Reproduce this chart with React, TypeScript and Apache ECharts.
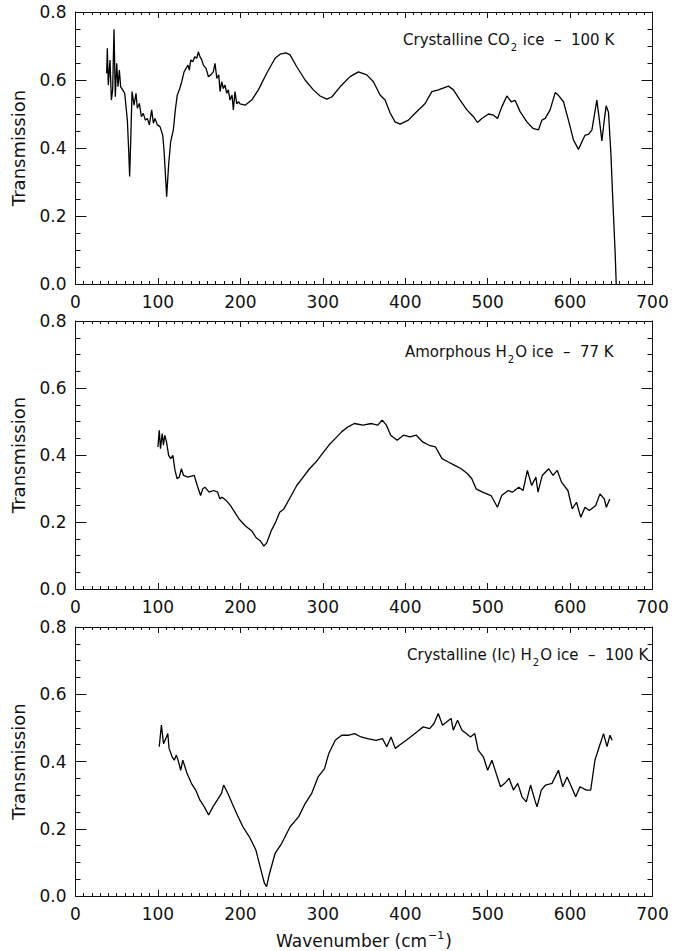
import React, { useEffect, useRef } from 'react';
import * as echarts from 'echarts';

// ---- tick labels ----
const xTickValues = [0, 100, 200, 300, 400, 500, 600, 700];
const yTickValues = [0.0, 0.2, 0.4, 0.6, 0.8];

// ---- panel titles ----
const titleMain = ['Crystalline CO', 'Amorphous H', 'Crystalline (Ic) H'];
const titleSub = ['2', '2', '2'];
const titleRest = [' ice  \u2013  100 K', 'O ice  \u2013  77 K', 'O ice  \u2013  100 K'];

// ---- Panel 1: crystalline CO2 ice, 100 K ----
const co2Wn = [
  37.8, 38.6, 39.8, 41.9, 43.5, 45.1, 46.7, 48.3, 50, 51.6, 53.2, 54.8, 57.2, 59.7, 61.3, 62.9,
  64.5, 65.7, 66.9, 68.6, 71, 73.4, 75, 77.5, 79.9, 82.3, 84.7, 87.2, 89.6, 92.4, 94.5, 96.5,
  99.3, 102.5, 105.8, 107.4, 109, 110.6, 113.1, 115.5, 118.7, 121.1, 123.5, 126, 128.9, 131.7,
  134.1, 136.5, 138.1, 139.8, 142.2, 144.7, 147.1, 149, 151.1, 153.2, 155.1, 158.4, 161.2, 164.1,
  167.2, 169.3, 171.4, 173.8, 175.4, 177.4, 179.4, 181.4, 183.5, 185.4, 187.5, 189.9, 191.5,
  193.5, 195.6, 197.6, 199.6, 205.7, 213.8, 221.8, 232, 242.1, 248.2, 255.5, 260.3, 268.4,
  278.5, 288.6, 296.7, 304.9, 310.9, 321, 333.1, 343.2, 353.4, 361.4, 369.5, 375.6, 381.7,
  387.7, 393.8, 403.9, 412, 424.2, 432.3, 440.3, 452.4, 458.5, 466.6, 474.8, 482.8, 487.6, 493,
  501, 507, 511.9, 517.2, 523.3, 528.5, 533.4, 539.4, 547.6, 554.9, 561.7, 565.8, 569.8, 575.8,
  581.9, 585.9, 592, 598, 604.1, 610.2, 615.5, 618.3, 622.3, 626.5, 632.5, 635.7, 638.6, 641.4,
  643.8, 646.6, 649.5, 652, 654.7, 656
];
const co2T = [
  0.62, 0.693, 0.585, 0.659, 0.541, 0.571, 0.749, 0.551, 0.649, 0.58, 0.629, 0.58, 0.571, 0.561, 0.521, 0.482,
  0.394, 0.316, 0.414, 0.566, 0.526, 0.561, 0.517, 0.531, 0.492, 0.502, 0.482, 0.487, 0.468, 0.512, 0.473, 0.487,
  0.468, 0.463, 0.438, 0.394, 0.326, 0.257, 0.355, 0.419, 0.453, 0.512, 0.556, 0.571, 0.595, 0.624,
  0.634, 0.644, 0.629, 0.659, 0.654, 0.668, 0.664, 0.683, 0.668, 0.659, 0.644, 0.634, 0.61, 0.615,
  0.624, 0.649, 0.605, 0.615, 0.566, 0.595, 0.575, 0.585, 0.561, 0.571, 0.541, 0.556, 0.512,
  0.566, 0.53, 0.536, 0.53, 0.526, 0.541, 0.571, 0.62, 0.664, 0.676, 0.68, 0.674, 0.639,
  0.6, 0.571, 0.553, 0.544, 0.55, 0.58, 0.61, 0.624, 0.615, 0.595, 0.556, 0.541, 0.503,
  0.477, 0.47, 0.482, 0.502, 0.531, 0.566, 0.571, 0.582, 0.571, 0.541, 0.512, 0.492, 0.475, 0.487,
  0.5, 0.497, 0.487, 0.521, 0.553, 0.536, 0.54, 0.507, 0.477, 0.458, 0.453, 0.482, 0.487, 0.512,
  0.563, 0.555, 0.536, 0.482, 0.424, 0.396, 0.424, 0.438, 0.44, 0.453, 0.541, 0.48, 0.421, 0.48,
  0.524, 0.505, 0.385, 0.238, 0.091, 0.0
];

// ---- Panel 2: amorphous H2O ice, 77 K ----
const amWn = [
  100, 101.6, 103.1, 105.2, 106.7, 108.3, 110.4, 113, 115.5, 118.1, 120.7, 123.3, 125.9, 128.5,
  131.1, 136.3, 144, 147.7, 151.8, 154.4, 157, 162.2, 167.4, 172.5, 175.1, 177.7, 182.9, 188.1,
  193.3, 198.4, 206.2, 214, 219.2, 224.4, 228.5, 232.1, 237.3, 242.5, 247.7, 252.8, 260.6, 268.4,
  276.2, 283.9, 291.7, 299.5, 307.3, 315, 322.8, 330.6, 338.3, 348.7, 359.1, 366.8, 372, 377.2,
  382.4, 390.2, 397.9, 405.7, 413.5, 421.2, 429, 436.8, 444.6, 452.3, 460.1, 467.9, 475.6, 480.8,
  486, 493.8, 504.1, 511.9, 517.1, 524.9, 530, 537.8, 543, 548.2, 553.4, 558.5, 561.1, 566.3,
  574.1, 579.3, 584.5, 589.6, 597.4, 602.6, 607.8, 613, 618.1, 623.3, 631.1, 636.3, 641.5, 644, 648.2
];
const amT = [
  0.424, 0.474, 0.419, 0.464, 0.429, 0.459, 0.439, 0.399, 0.389, 0.399, 0.354, 0.329, 0.334, 0.359,
  0.339, 0.334, 0.339, 0.309, 0.279, 0.299, 0.304, 0.289, 0.294, 0.289, 0.269, 0.274, 0.264, 0.249,
  0.229, 0.209, 0.188, 0.173, 0.153, 0.143, 0.128, 0.138, 0.173, 0.198, 0.229, 0.239, 0.274, 0.309,
  0.334, 0.359, 0.379, 0.404, 0.429, 0.449, 0.469, 0.484, 0.494, 0.489, 0.494, 0.489, 0.504, 0.489,
  0.459, 0.444, 0.459, 0.454, 0.459, 0.439, 0.429, 0.424, 0.389, 0.379, 0.369, 0.359, 0.344, 0.329,
  0.299, 0.289, 0.279, 0.244, 0.279, 0.294, 0.289, 0.304, 0.294, 0.354, 0.309, 0.334, 0.289, 0.339,
  0.359, 0.339, 0.354, 0.319, 0.294, 0.239, 0.259, 0.214, 0.244, 0.234, 0.249, 0.284, 0.269, 0.244, 0.269
];

// ---- Panel 3: crystalline (Ic) H2O ice, 100 K ----
const crWn = [
  101.6, 104.2, 106.8, 109.4, 112, 113.5, 117.2, 119.8, 122.4, 125, 127.6, 130.2, 135.4, 140.6,
  145.8, 151, 156.3, 161.5, 166.7, 171.9, 177.1, 179.7, 184.9, 190.1, 195.3, 203.1, 210.9, 218.8,
  225, 229.2, 231.8, 235.4, 242.2, 250, 260.4, 270.8, 278.6, 286.5, 294.3, 302.1, 307.3, 315.1,
  322.9, 330.7, 338.5, 346.4, 354.2, 364.6, 372.4, 377.6, 382.8, 388, 393.2, 398.4, 406.3, 414.1,
  421.9, 429.7, 434.9, 440.1, 445.3, 450.5, 455.7, 458.3, 463.5, 468.8, 474, 479.2, 484.4, 488.5,
  494.8, 500, 505.2, 510.4, 515.6, 520.8, 526, 531.3, 536.5, 541.7, 546.9, 552.1, 557.3, 559.9,
  565.1, 570.3, 578.1, 585.9, 591.1, 596.4, 601.6, 606.8, 612, 619.8, 625, 630.2, 635.4, 640.6,
  644.8, 648.4, 651
];
const crT = [
  0.444, 0.508, 0.453, 0.468, 0.483, 0.439, 0.414, 0.404, 0.419, 0.399, 0.374, 0.404, 0.364, 0.335,
  0.315, 0.285, 0.265, 0.241, 0.265, 0.285, 0.305, 0.33, 0.305, 0.275, 0.246, 0.206, 0.176, 0.137,
  0.077, 0.038, 0.028, 0.067, 0.127, 0.156, 0.206, 0.236, 0.275, 0.305, 0.354, 0.379, 0.424, 0.463,
  0.478, 0.478, 0.483, 0.473, 0.468, 0.463, 0.468, 0.444, 0.473, 0.439, 0.449, 0.458, 0.473, 0.488,
  0.503, 0.498, 0.513, 0.543, 0.508, 0.518, 0.528, 0.493, 0.523, 0.493, 0.483, 0.473, 0.483, 0.434,
  0.414, 0.374, 0.404, 0.364, 0.325, 0.335, 0.35, 0.315, 0.335, 0.295, 0.28, 0.33, 0.285, 0.265,
  0.315, 0.33, 0.335, 0.374, 0.325, 0.354, 0.325, 0.295, 0.325, 0.315, 0.315, 0.404, 0.444, 0.483,
  0.444, 0.478, 0.463
];

const FONT = 'DejaVu Sans';
const INK = '#111';

export default function App() {
  const ref = useRef<HTMLDivElement>(null);

  useEffect(() => {
    if (!ref.current) return;
    const chart = echarts.init(ref.current, undefined, { renderer: 'svg' });

    const grids = [
      { left: 75.5, right: 20.5, top: 12, height: 272 },
      { left: 75.5, right: 20.5, top: 321, height: 268 },
      { left: 75.5, right: 20.5, top: 627, height: 269 },
    ];
    const seriesData = [
      co2Wn.map((w, i) => [w, co2T[i]]),
      amWn.map((w, i) => [w, amT[i]]),
      crWn.map((w, i) => [w, crT[i]]),
    ];

    const xAxes: any[] = [];
    const yAxes: any[] = [];
    grids.forEach((_, g) => {
      const xBase = {
        type: 'value', gridIndex: g,
        min: xTickValues[0], max: xTickValues[xTickValues.length - 1], interval: 100,
        splitLine: { show: false },
        axisLine: { show: true, onZero: false, lineStyle: { color: INK, width: 1 } },
        axisTick: { show: true, inside: true, length: 6, lineStyle: { color: INK } },
        minorTick: { show: true, splitNumber: 10, length: 3, lineStyle: { color: INK } },
      };
      xAxes.push({
        ...xBase, position: 'bottom',
        axisLabel: { show: true, margin: 9, fontSize: 17, color: INK, fontFamily: FONT,
          formatter: (v: number) => String(v) },
      });
      xAxes.push({ ...xBase, position: 'top', axisLabel: { show: false } });

      const yBase = {
        type: 'value', gridIndex: g,
        min: yTickValues[0], max: yTickValues[yTickValues.length - 1], interval: 0.2,
        splitLine: { show: false },
        axisLine: { show: true, onZero: false, lineStyle: { color: INK, width: 1 } },
        axisTick: { show: true, inside: true, length: 11, lineStyle: { color: INK } },
        minorTick: { show: true, splitNumber: 4, length: 5, lineStyle: { color: INK } },
      };
      yAxes.push({
        ...yBase, position: 'left',
        axisLabel: { show: true, margin: 9, fontSize: 17, color: INK, fontFamily: FONT,
          formatter: (v: number) => v.toFixed(1) },
      });
      yAxes.push({ ...yBase, position: 'right', axisLabel: { show: false } });
    });

    const series = seriesData.map((d, g) => ({
      type: 'line', xAxisIndex: g * 2, yAxisIndex: g * 2, data: d,
      showSymbol: false, symbol: 'none', smooth: false,
      lineStyle: { color: '#000', width: 1.3 },
    }));

    const graphics: any[] = [];
    grids.forEach((gr) => {
      graphics.push({
        type: 'text', x: 18, y: gr.top + gr.height / 2, rotation: Math.PI / 2,
        style: { text: 'Transmission', fontSize: 18, fontFamily: FONT, fill: INK,
          align: 'center', verticalAlign: 'middle' },
      });
    });
    const titlePos = [[403, 40], [405, 352], [407, 655]];
    titlePos.forEach(([x, y], g) => {
      graphics.push({
        type: 'text', x, y,
        style: {
          text: `{a|${titleMain[g]}}{s|${titleSub[g]}}{a|${titleRest[g]}}`,
          fontFamily: FONT, fill: INK, verticalAlign: 'middle', align: 'left',
          rich: {
            a: { fontSize: 15, fontFamily: FONT, fill: INK, lineHeight: 18 },
            s: { fontSize: 10, fontFamily: FONT, fill: INK, lineHeight: 10, padding: [14, 1, 0, 1] },
          },
        },
      });
    });
    graphics.push({
      type: 'text', x: 364, y: 941,
      style: {
        text: '{a|Wavenumber (cm}{p|\u22121}{a|)}',
        fontFamily: FONT, fill: INK, align: 'center', verticalAlign: 'middle',
        rich: {
          a: { fontSize: 17, fontFamily: FONT, fill: INK, lineHeight: 20 },
          p: { fontSize: 11, fontFamily: FONT, fill: INK, lineHeight: 12, padding: [0, 1, 12, 1] },
        },
      },
    });

    chart.setOption({
      animation: false,
      backgroundColor: '#fff',
      grid: grids.map((g) => ({ ...g, containLabel: false })),
      xAxis: xAxes,
      yAxis: yAxes,
      series,
      graphic: graphics,
    });

    return () => chart.dispose();
  }, []);

  return (
    <div
      ref={ref}
      style={{ position: 'absolute', left: 0, top: 0, width: 673, height: 951, background: '#fff' }}
    />
  );
}
